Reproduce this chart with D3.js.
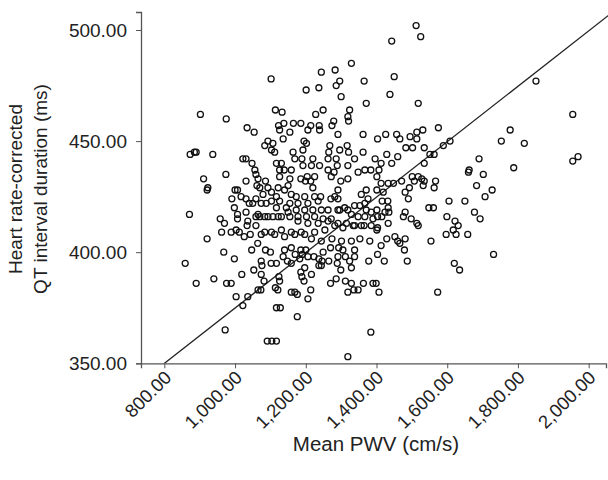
<!DOCTYPE html>
<html><head><meta charset="utf-8">
<script src="https://cdn.jsdelivr.net/npm/d3@7/dist/d3.min.js"></script>
<style>body{margin:0;background:#fff}</style>
</head><body>
<svg id="c" width="608" height="480"></svg>
<script>
// Mean PWV (cm/s)
const pwv = [902,975,1034,1329,1244,1283,1102,1296,1365,1286,1237,1201,1300,1371,1114,1133,1249,1228,1324,1319,1321,1279,1123,1138,1165,1186,1214,1238,1274,
1512,1525,1443,1450,1438,1518,1575,1531,1851,1955,1778,1753,1818,1788,1727,1955,1970,
1413,1403,1422,1479,1487,1620,1635,1399,1407,1573,1731,
859,968,998,1047,1053,1019,890,940,976,989,1003,1036,1022,972,1065,
1086,1100,1074,1076,1102,1117,1140,1159,1186,1200,1136,1148,1159,1170,1183,1190,1206,1223,1237,1249,1246,1265,1237,1244,1270,1293,1305,1291,1312,1289,1324,1338,1338,1299,1329,1378,
1074,1082,1073,1124,1126,1114,1121,1186,1197,1189,1195,1216,1159,1169,1176,1214,1206,1270,1286,1312,1329,1319,1336,1348,1363,1390,1117,1128,1176,1091,1104,1117,1384,1319,
1054,873,885,890,937,1022,1031,1048,1056,1059,974,911,1031,923,921,1000,1007,1062,991,1017,1031,1059,1040,1050,998,1031,1007,871,958,970,1007,1036,1059,1034,1059,962,989,1003,1012,1026,1043,921,1064,
1403,1426,1457,1466,1495,1514,1514,1483,1502,1535,1551,1563,1589,1608,1429,1396,1413,1443,1460,1535,1407,1401,1501,1518,1528,1535,1471,1448,1433,1413,1401,1419,1493,1507,1567,1563,1532,1481,1490,1660,1662,1690,1702,1683,1707,1605,1650,1416,1432,1433,1424,1401,1403,1415,1435,1548,1561,1481,1476,1498,1514,1518,1433,1403,1401,1599,1622,1631,1617,1677,1693,1597,1625,1658,1429,1452,1460,1481,1466,1554,
1155,1126,1206,1239,1291,1362,1136,1093,1107,1084,1103,1112,1195,1202,1268,1317,1265,1296,1321,1362,1164,1192,1189,1169,1220,1263,1286,1338,1131,1117,1139,1126,1159,1192,1239,1216,1263,1289,1319,1348,1367,1384,1280,1272,1204,1225,1186,1199,1214,1220,1155,1126,1086,1065,1070,1093,1122,1150,1140,1103,1079,1117,1159,1173,1197,1225,1242,1291,1319,1299,1357,1371,1376,1367,1282,1271,1291,1235,1206,1178,1155,1126,1103,1074,1088,1117,1145,1173,1197,1220,1244,1263,1296,1319,1338,1353,1371,1385,1291,1310,1329,1348,1367,1390,1272,1249,1225,1202,1178,1155,1131,1107,1084,1070,1065,1093,1122,1150,1178,1206,1235,1263,1291,1315,1338,1365,1385,1357,1334,1305,1282,1254,1225,1197,1169,1140,1112,1084,1074,1103,1131,1159,1187,1216,1244,1274,1301,1329,1353,1381];
// Heart rate-corrected QT interval duration (ms)
const qtc = [462,460,456,485,481,482,478,477,477,475,474,473,470,467,464,463,464,462,464,461,459,459,457,458,458,458,457,457,457,
502,497,495,479,471,467,456,455,477,462,455,450,449,438,428,441,443,
403,399,396,401,396,395,392,386,382,382,399,
395,400,397,401,392,390,386,388,386,386,380,380,376,365,383,
401,400,396,394,395,395,401,402,401,401,398,396,395,399,397,399,398,398,397,400,396,396,394,394,402,402,401,398,398,395,396,401,398,392,393,396,
390,387,383,389,387,384,383,391,393,389,387,390,382,382,381,383,379,386,388,387,386,382,383,383,386,386,375,375,371,360,360,360,364,353,
454,444,445,445,444,442,442,440,437,435,435,433,432,429,428,428,428,430,424,425,424,424,422,422,420,418,417,417,415,413,415,414,416,412,412,409,409,410,409,407,408,406,404,
451,453,453,451,452,451,454,447,447,447,444,444,448,450,444,442,440,440,443,440,437,434,434,434,433,432,432,431,431,431,428,427,429,432,432,429,430,427,424,436,437,442,435,430,425,423,423,423,423,420,418,419,416,416,418,420,420,418,416,415,413,412,413,411,410,416,414,412,410,418,415,408,408,408,406,407,405,406,404,405,
454,455,455,455,453,453,451,450,449,448,446,445,450,449,448,448,445,446,445,445,445,446,442,442,442,442,442,442,440,440,437,437,437,439,439,439,437,439,439,436,437,437,436,434,434,434,433,432,432,429,433,434,432,433,429,429,429,430,428,427,426,425,426,425,425,425,425,428,433,432,426,428,424,422,425,424,424,423,422,422,422,423,423,422,422,420,420,419,419,419,419,419,419,419,421,421,419,418,419,420,417,416,416,415,415,415,416,416,416,416,416,416,416,416,417,416,416,418,414,413,413,414,413,413,412,412,412,412,412,411,412,410,409,408,408,407,408,409,408,409,410,409,409,406,405,406,405,405,406,405,405,405,405,405,406];
const xTicks = [800,1000,1200,1400,1600,1800,2000];
const yTicks = [350,400,450,500];
const fit = {intercept: 250.2, slope: 0.1247};

const svg = d3.select("#c");
const x = d3.scaleLinear().domain([734, 2049]).range([141, 606]);
const y = d3.scaleLinear().domain([350, 508.1]).range([363.3, 12]);
const fmt = d3.format(",.2f");
const font = "'Liberation Sans', Arial, sans-serif";

const n = Math.min(pwv.length, qtc.length);
const pts = d3.range(n).map(i => ({x: pwv[i], y: qtc[i]}));

svg.append("defs").append("clipPath").attr("id","clip")
  .append("rect").attr("x",141).attr("y",12).attr("width",467).attr("height",351.3);

// regression line
const lx0 = 734, lx1 = 2060;
svg.append("line").attr("clip-path","url(#clip)")
  .attr("x1", x(lx0)).attr("y1", y(fit.intercept + fit.slope*lx0))
  .attr("x2", x(lx1)).attr("y2", y(fit.intercept + fit.slope*lx1))
  .attr("stroke","#222").attr("stroke-width",1.3);

svg.append("g").selectAll("circle").data(pts).join("circle")
  .attr("cx", d => x(d.x)).attr("cy", d => y(d.y)).attr("r", 3)
  .attr("fill","none").attr("stroke","#111").attr("stroke-width",1.3);

// axes
const xAxis = d3.axisBottom(x).tickValues(xTicks).tickFormat(fmt).tickSizeOuter(0).tickSize(5);
const gx = svg.append("g").attr("transform","translate(0,363.3)").call(xAxis);
gx.select(".domain").attr("stroke","#555").attr("stroke-width",1.3);
gx.selectAll(".tick line").attr("stroke","#555");
gx.selectAll(".tick text").attr("font-family",font).attr("font-size",18.5).attr("fill","#222")
  .attr("text-anchor","end").attr("transform","rotate(-45)").attr("dx","-0.3em").attr("dy","0.45em");

const yAxis = d3.axisLeft(y).tickValues(yTicks).tickFormat(fmt).tickSizeOuter(0).tickSize(5);
const gy = svg.append("g").attr("transform","translate(141,0)").call(yAxis);
gy.select(".domain").attr("stroke","#555").attr("stroke-width",1.3);
gy.selectAll(".tick line").attr("stroke","#555");
gy.selectAll(".tick text").attr("font-family",font).attr("font-size",19).attr("fill","#222").attr("dx","-6");

svg.append("text").attr("x",376).attr("y",451).attr("text-anchor","middle")
  .attr("font-family",font).attr("font-size",20.5).attr("fill","#222").text("Mean PWV (cm/s)");
const yt = svg.append("text").attr("transform","translate(0,189) rotate(-90)")
  .attr("text-anchor","middle").attr("font-family",font).attr("font-size",19).attr("fill","#222");
yt.append("tspan").attr("x",0).attr("y",22).text("Heart rate-corrected");
yt.append("tspan").attr("x",0).attr("y",47).text("QT interval duration (ms)");
</script>
</body></html>
